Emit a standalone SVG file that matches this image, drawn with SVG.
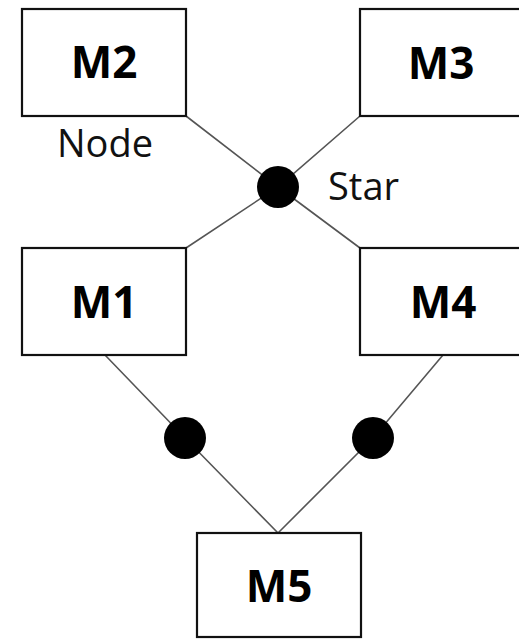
<svg xmlns="http://www.w3.org/2000/svg" width="519" height="639" viewBox="0 0 519 639">
<style>
.box{fill:#fff;stroke:#111;stroke-width:2.2}
.lbl{font-family:"Open Sans","Liberation Sans",sans-serif;font-weight:700;font-size:44px;fill:#000;text-anchor:middle}
.txt{font-family:"Open Sans","Liberation Sans",sans-serif;font-size:38px;fill:#111}
.wire{stroke:#555;stroke-width:1.6;fill:none}
.dot{fill:#000}
</style>
<rect width="519" height="639" fill="#fff"/>
<g id="connectors">
<polyline class="wire" points="186,116 278,187 360,248"/>
<polyline class="wire" points="360,116 278,187 186,248"/>
<polyline class="wire" points="105,355 185,438 278,533"/>
<polyline class="wire" points="443,355 373,438 278,533"/>
</g>
<g id="star"><circle class="dot" cx="278" cy="187" r="21"/></g>
<g id="dot-left"><circle class="dot" cx="185" cy="438" r="21"/></g>
<g id="dot-right"><circle class="dot" cx="373" cy="438" r="21"/></g>
<g id="M2"><rect class="box" x="22" y="9" width="164" height="107"/><text class="lbl" x="104" y="78">M2</text></g>
<g id="M3"><rect class="box" x="360" y="9" width="164" height="107"/><text class="lbl" x="441" y="79">M3</text></g>
<g id="M1"><rect class="box" x="22" y="248" width="164" height="107"/><text class="lbl" x="104" y="318">M1</text></g>
<g id="M4"><rect class="box" x="360" y="248" width="164" height="107"/><text class="lbl" x="443" y="318">M4</text></g>
<g id="M5"><rect class="box" x="197" y="533" width="164" height="104"/><text class="lbl" x="279" y="602">M5</text></g>
<text class="txt" x="57" y="157">Node</text>
<text class="txt" x="328" y="200">Star</text>
</svg>
